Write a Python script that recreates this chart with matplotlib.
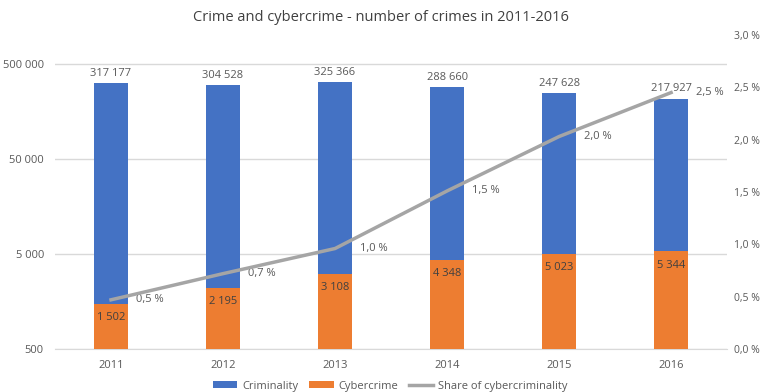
import numpy as np
import matplotlib.pyplot as plt
from matplotlib.ticker import FixedLocator, FuncFormatter

plt.rcParams['font.family'] = ['Open Sans', 'DejaVu Sans']

years = ['2011', '2012', '2013', '2014', '2015', '2016']
criminality = [317177, 304528, 325366, 288660, 247628, 217927]
cybercrime = [1502, 2195, 3108, 4348, 5023, 5344]
share = [0.47, 0.72, 0.96, 1.51, 2.03, 2.45]  # percent

blue = '#4472C4'
orange = '#ED7D31'
grey = '#A5A5A5'
txt = '#595959'


def spaced(v):
    return '{:,}'.format(int(v)).replace(',', ' ')


fig = plt.figure(figsize=(7.62, 3.92), dpi=100)
ax = fig.add_axes([0.0722, 0.1097, 0.882, 0.801])
x = np.arange(len(years))
w = 0.31

ax.set_yscale('log')
ax.bar(x, np.array(criminality) - 500, bottom=500, width=w, color=blue, zorder=2, label='Criminality')
ax.bar(x, np.array(cybercrime) - 500, bottom=500, width=w, color=orange, zorder=3, label='Cybercrime')
ax.set_ylim(500, 1.02e6)
ax.set_xlim(-0.5, len(years) - 0.5)
ax.yaxis.set_major_locator(FixedLocator([500, 5000, 50000, 500000]))
ax.yaxis.set_minor_locator(FixedLocator([]))
ax.yaxis.set_major_formatter(FuncFormatter(lambda v, p: spaced(v)))
ax.grid(axis='y', color='#D9D9D9', lw=1, zorder=0)
ax.set_xticks(x)
ax.set_xticklabels(years)
ax.tick_params(length=0, labelsize=8, colors=txt, pad=8)
for s in ['top', 'right', 'left']:
    ax.spines[s].set_visible(False)
ax.spines['bottom'].set_color('#D9D9D9')

for xi, c in zip(x, criminality):
    ax.annotate(spaced(c), (xi, c), xytext=(0, 3), textcoords='offset points',
                ha='center', va='bottom', fontsize=8, color=txt)
for xi, c in zip(x, cybercrime):
    ax.annotate(spaced(c), (xi, c), xytext=(0, -10), textcoords='offset points',
                ha='center', va='center', fontsize=8, color='#404040', zorder=5)

ax2 = ax.twinx()
ax2.plot(x, share, color=grey, lw=2.5, zorder=4, label='Share of cybercriminality')
ax2.set_ylim(0, 3.0)
ax2.set_yticks(np.arange(0, 3.01, 0.5))
ax2.yaxis.set_major_formatter(FuncFormatter(lambda v, p: '{:.1f} %'.format(v).replace('.', ',')))
ax2.tick_params(length=0, labelsize=7.5, colors=txt, pad=5)
for s in ax2.spines.values():
    s.set_visible(False)
for xi, s in zip(x, share):
    ax2.annotate('{:.1f} %'.format(s).replace('.', ','), (xi, s), xytext=(18, 0),
                 textcoords='offset points', ha='left', va='center', fontsize=8, color=txt)

fig.suptitle('Crime and cybercrime - number of crimes in 2011-2016', x=0.5, y=0.975,
             fontsize=10.5, color='#404040')

h1, l1 = ax.get_legend_handles_labels()
h2, l2 = ax2.get_legend_handles_labels()
fig.legend(h1 + h2, l1 + l2, loc='lower center', bbox_to_anchor=(0.512, -0.025), ncol=3,
           frameon=False, fontsize=8, labelcolor=txt, handlelength=2.2, handleheight=0.6,
           handletextpad=0.4, columnspacing=1.0)

fig.savefig('out.png', dpi=100)
